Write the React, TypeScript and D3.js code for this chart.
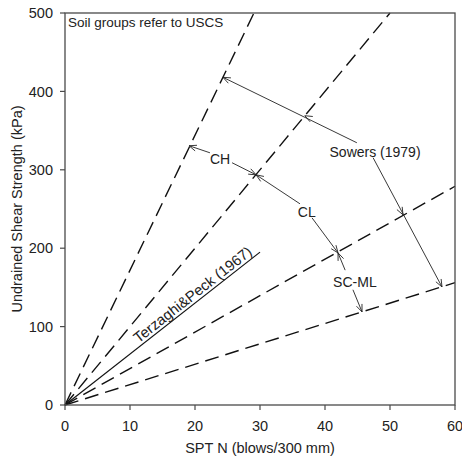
import React from "react";
import * as d3 from "d3";

// Sowers (1979) correlation slopes su = k * N (kPa per blow)
const sowersSlopes = [17.2, 10.0, 4.65, 2.6];
// Terzaghi & Peck (1967)
const terzaghiSlope = 6.5;
const terzaghiEndN = 30;

const xTicks = [0, 10, 20, 30, 40, 50, 60];
const yTicks = [0, 100, 200, 300, 400, 500];

// annotation labels [N, su]
const labelTexts = ["Sowers (1979)", "CH", "CL", "SC-ML"];
const labelPos: [number, number][] = [
  [47.7, 323],
  [23.85, 314],
  [37.2, 246],
  [44.6, 157],
];

// arrows: from, to, intermediate arrowheads (all in [N, su])
const arrowFrom: [number, number][] = [
  [44.9, 334.5],
  [47.4, 315.4],
  [22.3, 321.7],
  [25.7, 309],
  [36.15, 256.6],
  [38.0, 238.7],
  [43.1, 172],
  [44.3, 147],
];
const arrowTo: [number, number][] = [
  [24.3, 418],
  [58.0, 150.6],
  [19.08, 330.7],
  [29.4, 293.6],
  [29.4, 293.6],
  [42.0, 194],
  [42.0, 194],
  [45.7, 118.7],
];
const arrowMid: ([number, number] | null)[] = [
  [36.9, 369],
  [52.0, 242.6],
  null,
  null,
  null,
  null,
  null,
  null,
];

const W = 462;
const H = 461;
const font = "'Liberation Sans', Arial, sans-serif";

export default function App() {
  const x = d3.scaleLinear().domain([0, 60]).range([65, 455]);
  const y = d3.scaleLinear().domain([0, 500]).range([405, 13]);
  const axisColor = "#4a4a4a";
  const textColor = "#222";

  const lineGen = d3
    .line<[number, number]>()
    .x((d) => x(d[0]))
    .y((d) => y(d[1]));

  const head = (tip: [number, number], from: [number, number], key: string) => {
    const tx = x(tip[0]), ty = y(tip[1]);
    const fx = x(from[0]), fy = y(from[1]);
    const ang = Math.atan2(fy - ty, fx - tx);
    const L = 8, a = 0.38;
    const p1 = [tx + L * Math.cos(ang + a), ty + L * Math.sin(ang + a)];
    const p2 = [tx + L * Math.cos(ang - a), ty + L * Math.sin(ang - a)];
    return (
      <path
        key={key}
        d={`M${p1[0]},${p1[1]}L${tx},${ty}L${p2[0]},${p2[1]}`}
        fill="none"
        stroke="#222"
        strokeWidth={0.9}
      />
    );
  };

  const tStart: [number, number] = [11.6, 11.6 * terzaghiSlope];
  const tAngle =
    (Math.atan2(y(terzaghiSlope * 10) - y(0), x(10) - x(0)) * 180) / Math.PI;

  return (
    <svg width={W} height={H} style={{ position: "absolute", left: 0, top: 0 }}>
      <rect x={0} y={0} width={W} height={H} fill="#fff" />
      {/* Sowers dashed lines */}
      {sowersSlopes.map((k, i) => {
        const nEnd = Math.min(60, 500 / k);
        return (
          <path
            key={"s" + i}
            d={lineGen([
              [0, 0],
              [nEnd, nEnd * k],
            ])!}
            fill="none"
            stroke="#111"
            strokeWidth={1.4}
            strokeDasharray="14,7"
          />
        );
      })}
      {/* Terzaghi & Peck solid line */}
      <path
        d={lineGen([
          [0, 0],
          [terzaghiEndN, terzaghiEndN * terzaghiSlope],
        ])!}
        fill="none"
        stroke="#111"
        strokeWidth={1.2}
      />
      <text
        transform={`translate(${x(tStart[0])},${y(tStart[1])}) rotate(${tAngle}) translate(0,-3)`}
        fontFamily={font}
        fontSize={14.8}
        fill={textColor}
      >
        Terzaghi&amp;Peck (1967)
      </text>
      {/* arrows */}
      {arrowFrom.map((f, i) => {
        const t = arrowTo[i];
        const m = arrowMid[i];
        return (
          <g key={"a" + i}>
            <line
              x1={x(f[0])}
              y1={y(f[1])}
              x2={x(t[0])}
              y2={y(t[1])}
              stroke="#222"
              strokeWidth={0.9}
            />
            {head(t, f, "h" + i)}
            {m ? head(m, f, "m" + i) : null}
          </g>
        );
      })}
      {/* labels */}
      {labelTexts.map((s, i) => (
        <text
          key={"l" + i}
          x={x(labelPos[i][0])}
          y={y(labelPos[i][1])}
          dy="0.35em"
          textAnchor="middle"
          fontFamily={font}
          fontSize={14}
          fill={textColor}
        >
          {s}
        </text>
      ))}
      <text x={68} y={27} fontFamily={font} fontSize={13.5} fill={textColor}>
        Soil groups refer to USCS
      </text>
      {/* frame */}
      <rect
        x={x(0)}
        y={y(500)}
        width={x(60) - x(0)}
        height={y(0) - y(500)}
        fill="none"
        stroke={axisColor}
        strokeWidth={1.3}
      />
      {/* x ticks */}
      {xTicks.map((t) => (
        <g key={"xt" + t}>
          <line x1={x(t)} x2={x(t)} y1={y(0)} y2={y(0) + 5} stroke={axisColor} strokeWidth={1.2} />
          <text
            x={x(t)}
            y={431}
            textAnchor="middle"
            fontFamily={font}
            fontSize={14.5}
            fill={textColor}
          >
            {t}
          </text>
        </g>
      ))}
      {yTicks.map((t) => (
        <g key={"yt" + t}>
          <line x1={x(0) - 5} x2={x(0)} y1={y(t)} y2={y(t)} stroke={axisColor} strokeWidth={1.2} />
          <text
            x={53}
            y={y(t)}
            dy="0.36em"
            textAnchor="end"
            fontFamily={font}
            fontSize={14.5}
            fill={textColor}
          >
            {t}
          </text>
        </g>
      ))}
      <text
        x={260}
        y={453}
        textAnchor="middle"
        fontFamily={font}
        fontSize={14.5}
        fill={textColor}
      >
        SPT N (blows/300 mm)
      </text>
      <text
        transform={`translate(22,${(y(0) + y(500)) / 2}) rotate(-90)`}
        textAnchor="middle"
        fontFamily={font}
        fontSize={14.5}
        fill={textColor}
      >
        Undrained Shear Strength (kPa)
      </text>
    </svg>
  );
}
